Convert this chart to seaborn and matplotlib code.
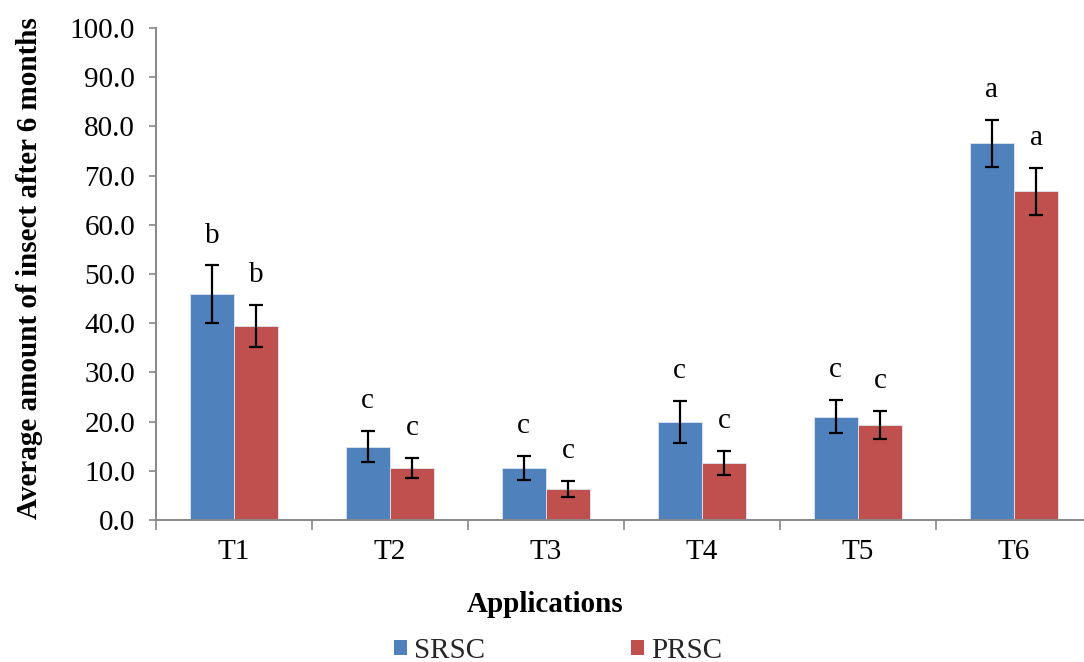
import numpy as np
import pandas as pd
import matplotlib
matplotlib.use("Agg")
import matplotlib.pyplot as plt
from matplotlib.patches import Patch
from matplotlib.ticker import FormatStrFormatter, FixedLocator
import seaborn as sns

# Treatments and the two series
applications = ["T1", "T2", "T3", "T4", "T5", "T6"]
series = ["SRSC", "PRSC"]
srsc_mean = [45.9, 14.9, 10.6, 19.9, 21.0, 76.6]
srsc_err = [5.85, 3.2, 2.5, 4.3, 3.4, 4.8]
prsc_mean = [39.5, 10.6, 6.3, 11.6, 19.3, 66.8]
prsc_err = [4.3, 2.1, 1.6, 2.5, 2.85, 4.8]
srsc_group = ["b", "c", "c", "c", "c", "a"]
prsc_group = ["b", "c", "c", "c", "c", "a"]

colors = {"SRSC": "#4F81BD", "PRSC": "#C0504D"}

df = pd.DataFrame({
    "Application": applications * 2,
    "Series": ["SRSC"] * 6 + ["PRSC"] * 6,
    "Value": srsc_mean + prsc_mean,
})
errs = {"SRSC": srsc_err, "PRSC": prsc_err}
groups = {"SRSC": srsc_group, "PRSC": prsc_group}
means = {"SRSC": srsc_mean, "PRSC": prsc_mean}

sns.set_theme(style="white")
plt.rcParams["font.family"] = ["Liberation Serif", "DejaVu Serif"]

W, H = 1084, 662
fig = plt.figure(figsize=(W / 100, H / 100), dpi=100)
ax = fig.add_axes([156 / W, (H - 520) / H, 936 / W, 492 / H])

sns.barplot(data=df, x="Application", y="Value", hue="Series",
            order=applications, hue_order=series, palette=colors,
            saturation=1, width=0.57, gap=0, errorbar=None, legend=False,
            edgecolor="#dde6f2", linewidth=0.6, ax=ax)

# error bars and significance letters on each bar
for name, cont in zip(series, ax.containers):
    xs = [b.get_x() + b.get_width() / 2 for b in cont]
    ax.errorbar(xs, means[name], yerr=errs[name], fmt="none",
                ecolor="black", elinewidth=1.6, capsize=5, capthick=1.6,
                zorder=5)
    for x, m, e, g in zip(xs, means[name], errs[name], groups[name]):
        ax.text(x, m + e + 4.6, g, ha="center", va="baseline",
                fontsize=21, color="black")

ax.set_ylim(0, 100)
ax.set_xlim(-0.5, 5.5)
ax.set_yticks(np.arange(0, 101, 10))
ax.yaxis.set_major_formatter(FormatStrFormatter("%.1f"))

# category labels centred, tick marks on the category boundaries
ax.set_xticks(range(len(applications)))
ax.set_xticklabels(applications)
ax.xaxis.set_minor_locator(FixedLocator(np.arange(-0.5, 6.0, 1.0)))

spine_col = "#888888"
for s in ["top", "right"]:
    ax.spines[s].set_visible(False)
for s in ["left", "bottom"]:
    ax.spines[s].set_color(spine_col)
    ax.spines[s].set_linewidth(1.4)

ax.tick_params(axis="y", which="major", direction="out", length=5, width=1.2,
               color=spine_col, labelsize=21, labelcolor="black", pad=10, left=True)
ax.tick_params(axis="x", which="major", length=0, labelsize=21,
               labelcolor="black", pad=14)
ax.tick_params(axis="x", which="minor", direction="out", length=7, width=1.2,
               color=spine_col, bottom=True)

ax.set_xlabel("Applications", fontsize=21, fontweight="bold", color="black")
ax.xaxis.set_label_coords((545 - 156) / 936, (520 - 605) / 492)
ax.xaxis.label.set_va("center")
ax.set_ylabel("Average amount of insect after 6 months", fontsize=21,
              fontweight="bold", color="black")
ax.yaxis.set_label_coords((30 - 156) / 936, (520 - 268) / 492)
ax.yaxis.label.set_va("center")
ax.grid(False)

handles = [Patch(facecolor=colors[s], edgecolor="none", label=s) for s in series]
fig.legend(handles=handles, loc="center", bbox_to_anchor=(558 / W, 1 - 651 / H),
           ncol=2, frameon=False, fontsize=21, handlelength=0.45,
           handleheight=0.45, handletextpad=0.25, columnspacing=5.0,
           borderaxespad=0)

fig.savefig("out.png", dpi=100)
